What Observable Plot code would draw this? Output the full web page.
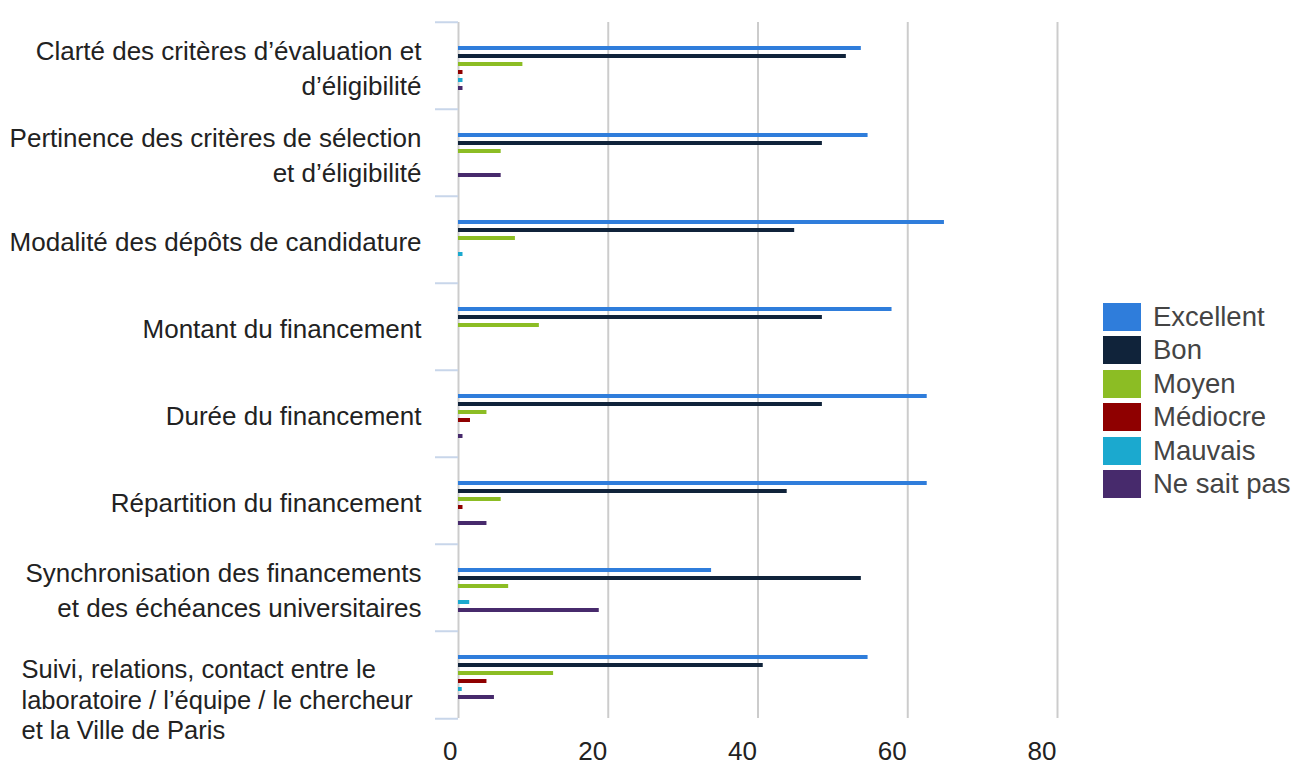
<!DOCTYPE html>
<html>
<head>
<meta charset="utf-8">
<script src="https://cdn.jsdelivr.net/npm/d3@7"></script>
<script src="https://cdn.jsdelivr.net/npm/@observablehq/plot@0.6"></script>
<style>
  body { margin: 0; background: #fff; font-family: "Liberation Sans", Arial, sans-serif; }
  #chart { position: relative; width: 1298px; height: 765px; }
  #legend { position: absolute; left: 1103px; top: 300px; }
  .item { display: flex; align-items: center; height: 33.5px; font-size: 27.5px; color: #444; }
  .sw { width: 38px; height: 28px; margin-right: 12px; flex: none; }
</style>
</head>
<body>
<div id="chart"><div id="legend"></div></div>
<script>
// Survey questions (one line per entry, as they wrap on the axis)
const categoryLines = [
  ["Clarté des critères d’évaluation et", "d’éligibilité"],
  ["Pertinence des critères de sélection", "et d’éligibilité"],
  ["Modalité des dépôts de candidature"],
  ["Montant du financement"],
  ["Durée du financement"],
  ["Répartition du financement"],
  ["Synchronisation des financements", "et des échéances universitaires"],
  ["Suivi, relations, contact entre le", "laboratoire / l’équipe / le chercheur", "et la Ville de Paris"]
];
const categories = categoryLines.map(l => l.join(" "));

// Answer options and their colours
const series = ["Excellent", "Bon", "Moyen", "Médiocre", "Mauvais", "Ne sait pas"];
const colors = ["#2f7ddb", "#10233a", "#8cbd24", "#8f0000", "#1ba9cf", "#472a6c"];

// Share of answers per question, one array per answer option
const excellent = [53.8, 54.7, 64.9, 57.9, 62.6, 62.6, 33.8, 54.7];
const bon       = [51.8, 48.6, 44.9, 48.6, 48.6, 43.9, 53.8, 40.7];
const moyen     = [8.6, 5.7, 7.6, 10.8, 3.8, 5.7, 6.7, 12.7];
const mediocre  = [0.6, 0, 0, 0, 1.6, 0.6, 0, 3.8];
const mauvais   = [0.6, 0, 0.6, 0, 0, 0, 1.5, 0.5];
const neSaitPas = [0.6, 5.7, 0, 0, 0.6, 3.8, 18.8, 4.8];
const seriesValues = [excellent, bon, moyen, mediocre, mauvais, neSaitPas];

const xTicks = [0, 20, 40, 60, 80];

const rows = categories.flatMap((c, i) =>
  series.map((s, j) => ({category: c, series: s, value: seriesValues[j][i]}))
).filter(d => d.value > 0);

const labelOf = new Map(categories.map((c, i) => [c, categoryLines[i].join("\n")]));
const lastCategory = categories[categories.length - 1];
const font = '"Liberation Sans", Arial, sans-serif';

const chart = Plot.plot({
  width: 1298,
  height: 765,
  marginTop: 20,
  marginBottom: 45,
  marginLeft: 458,
  marginRight: 241,
  style: {fontFamily: font, background: "transparent", overflow: "visible"},
  x: {domain: [0, 80], label: null},
  fy: {domain: categories, padding: 0, label: null},
  y: {domain: series, paddingInner: 0.5, paddingOuter: 1.89, insetTop: 4, axis: null, label: null},
  color: {domain: series, range: colors},
  marks: [
    Plot.gridX(xTicks, {stroke: "#cccccc", strokeOpacity: 1, strokeWidth: 2}),
    Plot.barX(rows, {fy: "category", y: "series", x: "value", fill: "series"}),
    Plot.axisX(xTicks, {
      anchor: "bottom", label: null, tickSize: 0, tickPadding: 23, textAnchor: "end", dx: -1,
      fontSize: 26, color: "#222"
    }),
    // question labels, right-aligned next to the axis
    Plot.axisFy({
      anchor: "left", label: null, ticks: categories.slice(0, -1), tickSize: 0, tickPadding: 37,
      tickFormat: c => labelOf.get(c), fontSize: 26, lineHeight: 1.35, dy: 0, color: "#222"
    }),
    // the long last question is set flush left
    Plot.axisFy({
      anchor: "left", label: null, ticks: [lastCategory], tickSize: 0, tickPadding: 437, textAnchor: "start",
      tickFormat: c => labelOf.get(c), fontSize: 25.5, lineHeight: 1.19, dy: 24, color: "#222"
    }),
    // small separators between question groups
    Plot.axisFy({
      anchor: "left", label: null, tickSize: 23, tickFormat: () => "", dy: -43.75,
      stroke: "#c8d6ea", strokeWidth: 2
    }),
    Plot.axisFy({
      anchor: "left", label: null, ticks: [lastCategory], tickSize: 23, tickFormat: () => "", dy: 43.75,
      stroke: "#c8d6ea", strokeWidth: 2
    })
  ]
});
document.getElementById("chart").prepend(chart);

// legend
const legend = d3.select("#legend");
series.forEach((s, i) => {
  const item = legend.append("div").attr("class", "item");
  item.append("div").attr("class", "sw").style("background", colors[i]);
  item.append("span").text(s);
});
</script>
</body>
</html>
